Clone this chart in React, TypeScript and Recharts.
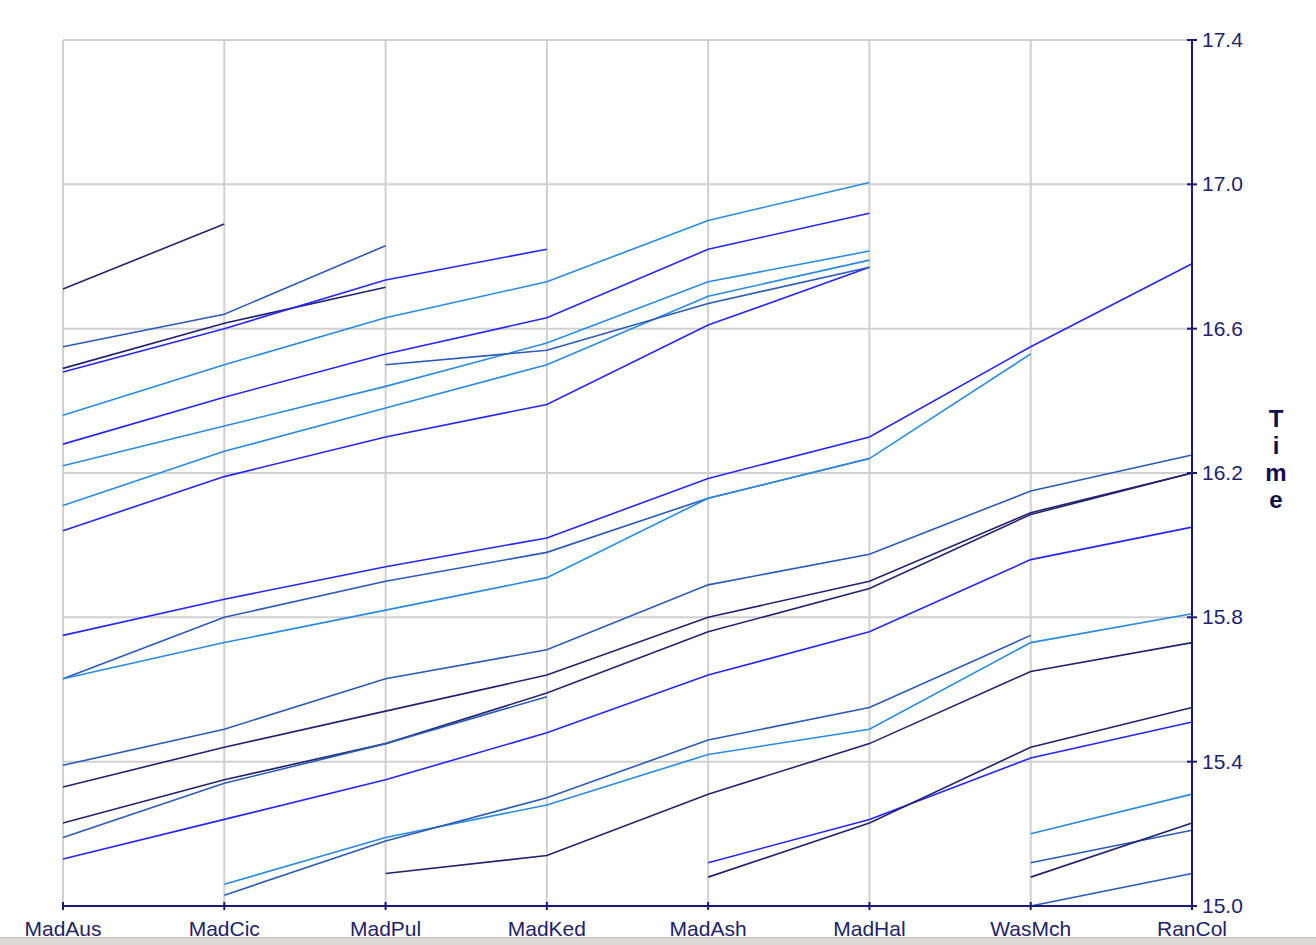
import { LineChart, Line, XAxis, YAxis, CartesianGrid } from "recharts"

// split names along the x axis
const categories = ["MadAus", "MadCic", "MadPul", "MadKed", "MadAsh", "MadHal", "WasMch", "RanCol"]
const yTicks = [15.0, 15.4, 15.8, 16.2, 16.6, 17.0, 17.4]

const NAVY = "#23236e"
const MID = "#2b5bb5"
const BRIGHT = "#2626f5"
const LIGHT = "#2a8ae0"
const AXIS = "#1a1a78"
const TEXT = "#22226a"
const FONT = "'Liberation Sans', Arial, sans-serif"

// one array per runner, null where no time was recorded
const r01 = [16.71, 16.89, null, null, null, null, null, null]
const r02 = [16.55, 16.64, 16.83, null, null, null, null, null]
const r03 = [16.49, 16.615, 16.715, null, null, null, null, null]
const r04 = [16.48, 16.6, 16.735, 16.82, null, null, null, null]
const r05 = [16.36, 16.5, 16.63, 16.73, 16.9, 17.005, null, null]
const r06 = [16.28, 16.41, 16.53, 16.63, 16.82, 16.92, null, null]
const r07 = [16.22, 16.33, 16.44, 16.56, 16.73, 16.815, null, null]
const r08 = [16.11, 16.26, 16.38, 16.5, 16.69, 16.79, null, null]
const r09 = [16.04, 16.19, 16.3, 16.39, 16.61, 16.77, null, null]
const r10 = [null, null, 16.5, 16.54, 16.67, 16.77, null, null]
const r11 = [15.75, 15.85, 15.94, 16.02, 16.185, 16.3, 16.55, 16.78]
const r12 = [15.63, 15.8, 15.9, 15.98, 16.13, 16.24, null, null]
const r13 = [15.63, 15.73, 15.82, 15.91, 16.13, 16.24, 16.53, null]
const r14 = [15.39, 15.49, 15.63, 15.71, 15.89, 15.975, 16.15, 16.25]
const r15 = [15.33, 15.44, 15.54, 15.64, 15.8, 15.9, 16.09, 16.2]
const r16 = [15.23, 15.35, 15.45, 15.59, 15.76, 15.88, 16.085, 16.2]
const r17 = [15.19, 15.34, 15.45, 15.58, null, null, null, null]
const r18 = [15.13, 15.24, 15.35, 15.48, 15.64, 15.76, 15.96, 16.05]
const r19 = [null, 15.06, 15.19, 15.28, 15.42, 15.49, 15.73, 15.81]
const r20 = [null, 15.03, 15.18, 15.3, 15.46, 15.55, 15.75, null]
const r21 = [null, null, 15.09, 15.14, 15.31, 15.45, 15.65, 15.73]
const r22 = [null, null, null, null, 15.12, 15.24, 15.41, 15.51]
const r23 = [null, null, null, null, 15.08, 15.23, 15.44, 15.55]
const r24 = [null, null, null, null, null, null, 15.2, 15.31]
const r25 = [null, null, null, null, null, null, 15.12, 15.21]
const r26 = [null, null, null, null, null, null, 15.08, 15.23]
const r27 = [null, null, null, null, null, null, 15.0, 15.09]

const series = [
  { key: "r01", color: NAVY, values: r01 },
  { key: "r02", color: MID, values: r02 },
  { key: "r03", color: NAVY, values: r03 },
  { key: "r04", color: BRIGHT, values: r04 },
  { key: "r05", color: LIGHT, values: r05 },
  { key: "r06", color: BRIGHT, values: r06 },
  { key: "r07", color: LIGHT, values: r07 },
  { key: "r08", color: LIGHT, values: r08 },
  { key: "r09", color: BRIGHT, values: r09 },
  { key: "r10", color: MID, values: r10 },
  { key: "r11", color: BRIGHT, values: r11 },
  { key: "r12", color: MID, values: r12 },
  { key: "r13", color: LIGHT, values: r13 },
  { key: "r14", color: MID, values: r14 },
  { key: "r15", color: NAVY, values: r15 },
  { key: "r16", color: NAVY, values: r16 },
  { key: "r17", color: MID, values: r17 },
  { key: "r18", color: BRIGHT, values: r18 },
  { key: "r19", color: LIGHT, values: r19 },
  { key: "r20", color: MID, values: r20 },
  { key: "r21", color: NAVY, values: r21 },
  { key: "r22", color: BRIGHT, values: r22 },
  { key: "r23", color: NAVY, values: r23 },
  { key: "r24", color: LIGHT, values: r24 },
  { key: "r25", color: MID, values: r25 },
  { key: "r26", color: NAVY, values: r26 },
  { key: "r27", color: MID, values: r27 },
]

const data = categories.map((name, i) => {
  const row: Record<string, string | number | null> = { name }
  series.forEach((s) => {
    row[s.key] = s.values[i]
  })
  return row
})

function XTick({ x, y, payload }: any) {
  return (
    <g>
      <line x1={x} x2={x} y1={y - 4} y2={y + 4} stroke={AXIS} strokeWidth={2} />
      <text x={x} y={y + 30} textAnchor="middle" fill={TEXT} fontSize={21} fontFamily={FONT}>
        {payload.value}
      </text>
    </g>
  )
}

function YTick({ x, y, payload }: any) {
  return (
    <g>
      <line x1={x - 5} x2={x + 5} y1={y} y2={y} stroke={AXIS} strokeWidth={2} />
      <text x={x + 10} y={y + 7} textAnchor="start" fill={TEXT} fontSize={21} fontFamily={FONT}>
        {Number(payload.value).toFixed(1)}
      </text>
    </g>
  )
}

// stacked "Time" title to the right of the axis
function TimeLabel({ viewBox }: any) {
  const cx = viewBox.x + 84
  const cy = viewBox.y + viewBox.height / 2
  const letters = ["T", "i", "m", "e"]
  return (
    <text textAnchor="middle" fill="#10104a" fontSize={24} fontWeight="bold" fontFamily={FONT}>
      {letters.map((ch, i) => (
        <tspan key={i} x={cx} y={cy - 46 + i * 27}>
          {ch}
        </tspan>
      ))}
    </text>
  )
}

export default function App() {
  return (
    <div
      style={{
        position: "absolute",
        left: 0,
        top: 0,
        width: 1316,
        height: 945,
        background: "#fff",
        overflow: "hidden",
      }}
    >
      <LineChart width={1316} height={945} data={data} margin={{ top: 40, right: 0, left: 63, bottom: 0 }}>
        <CartesianGrid stroke="#d0d0d0" strokeWidth={2} />
        <XAxis
          dataKey="name"
          height={39}
          padding={{ left: 0, right: 0 }}
          axisLine={{ stroke: AXIS, strokeWidth: 2 }}
          tickLine={false}
          tickSize={0}
          tickMargin={0}
          tick={<XTick />}
          interval={0}
        />
        <YAxis
          orientation="right"
          width={124}
          domain={[15, 17.4]}
          ticks={yTicks}
          allowDataOverflow
          axisLine={{ stroke: AXIS, strokeWidth: 2 }}
          tickLine={false}
          tickSize={0}
          tickMargin={0}
          tick={<YTick />}
          interval={0}
          label={{ content: <TimeLabel /> }}
        />
        {series.map((s) => (
          <Line
            key={s.key}
            type="linear"
            dataKey={s.key}
            stroke={s.color}
            strokeWidth={1.6}
            dot={false}
            activeDot={false}
            connectNulls={false}
            isAnimationActive={false}
          />
        ))}
      </LineChart>
      <div
        style={{
          position: "absolute",
          left: 0,
          top: 937,
          width: 1316,
          height: 8,
          background: "#dcdad6",
          borderTop: "1px solid #c4c2be",
        }}
      />
    </div>
  )
}
